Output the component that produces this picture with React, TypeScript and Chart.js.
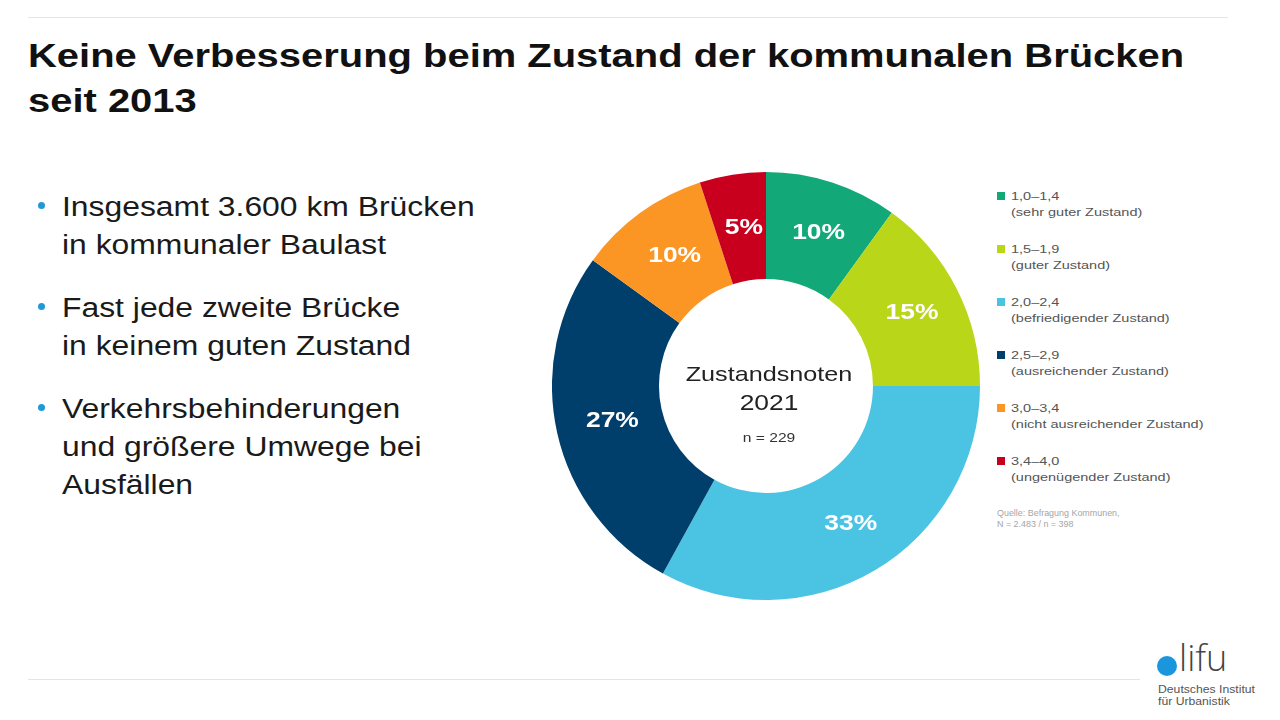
import React, { useEffect, useRef } from "react";
import { Chart, registerables } from "chart.js";

Chart.register(...registerables);

const rangeLabels = ["1,0–1,4", "1,5–1,9", "2,0–2,4", "2,5–2,9", "3,0–3,4", "3,4–4,0"];
const stateLabels = [
  "(sehr guter Zustand)",
  "(guter Zustand)",
  "(befriedigender Zustand)",
  "(ausreichender Zustand)",
  "(nicht ausreichender Zustand)",
  "(ungenügender Zustand)",
];
const shares = [10, 15, 33, 27, 10, 5];
const colors = ["#12a878", "#b9d619", "#4bc3e3", "#003f6b", "#fb9624", "#c8001e"];
const centerLines = ["Zustandsnoten", "2021", "n = 229"];

const titleLines = ["Keine Verbesserung beim Zustand der kommunalen Brücken", "seit 2013"];
const bullets = [
  ["Insgesamt 3.600 km Brücken", "in kommunaler Baulast"],
  ["Fast jede zweite Brücke", "in keinem guten Zustand"],
  ["Verkehrsbehinderungen", "und größere Umwege bei", "Ausfällen"],
];
const sourceLines = ["Quelle: Befragung Kommunen,", "N = 2.483 / n = 398"];

const FONT = '"Liberation Sans", Arial, sans-serif';
const STRETCH = 1.2;

function fillStretched(ctx: CanvasRenderingContext2D, text: string, x: number, y: number) {
  ctx.save();
  ctx.translate(x, y);
  ctx.scale(STRETCH, 1);
  ctx.fillText(text, 0, 0);
  ctx.restore();
}

const labelPlugin = {
  id: "labelsAndCenter",
  afterDatasetsDraw(chart: any) {
    const ctx = chart.ctx;
    const meta = chart.getDatasetMeta(0);
    ctx.save();
    ctx.fillStyle = "#ffffff";
    ctx.font = `bold 22px ${FONT}`;
    ctx.textAlign = "center";
    ctx.textBaseline = "middle";
    meta.data.forEach((arc: any, i: number) => {
      const p = arc.tooltipPosition();
      fillStretched(ctx, shares[i] + "%", p.x + 3, p.y);
    });
    const a = meta.data[0];
    const cx = a.x + 3;
    const cy = a.y;
    ctx.fillStyle = "#222222";
    ctx.font = `21px ${FONT}`;
    fillStretched(ctx, centerLines[0], cx, cy - 11);
    ctx.font = `22px ${FONT}`;
    fillStretched(ctx, centerLines[1], cx, cy + 18);
    ctx.fillStyle = "#333333";
    ctx.font = `13px ${FONT}`;
    fillStretched(ctx, centerLines[2], cx, cy + 52);
    ctx.restore();
  },
};

function Donut() {
  const ref = useRef<HTMLCanvasElement>(null);
  useEffect(() => {
    if (!ref.current) return;
    const chart = new Chart(ref.current, {
      type: "doughnut",
      data: {
        labels: rangeLabels,
        datasets: [
          {
            data: shares,
            backgroundColor: colors,
            borderWidth: 0,
          },
        ],
      },
      options: {
        animation: false,
        responsive: false,
        maintainAspectRatio: false,
        cutout: "50%",
        rotation: 0,
        layout: { padding: 0 },
        plugins: {
          legend: { display: false },
          tooltip: { enabled: false },
        },
      },
      plugins: [labelPlugin],
    });
    return () => chart.destroy();
  }, []);
  return (
    <canvas
      ref={ref}
      width={428}
      height={428}
      style={{ position: "absolute", left: 552, top: 172, width: 428, height: 428 }}
    />
  );
}

const stretchStyle = (s: number): React.CSSProperties => ({
  display: "inline-block",
  transform: `scaleX(${s})`,
  transformOrigin: "0 0",
  whiteSpace: "nowrap",
});

export default function App() {
  return (
    <div
      style={{
        position: "fixed",
        left: 0,
        top: 0,
        width: 1280,
        height: 720,
        background: "#ffffff",
        fontFamily: FONT,
        overflow: "hidden",
      }}
    >
      <div style={{ position: "absolute", left: 28, top: 17, width: 1200, height: 1, background: "#dde7f1" }} />
      <div style={{ position: "absolute", left: 28, top: 679, width: 1112, height: 1, background: "#dde7f1" }} />
      <div
        style={{
          position: "absolute",
          left: 28,
          top: 33,
          fontSize: 33,
          fontWeight: "bold",
          lineHeight: "45px",
          color: "#111111",
        }}
      >
        {titleLines.map((t, i) => (
          <div key={i}>
            <span style={stretchStyle(1.21)}>{t}</span>
          </div>
        ))}
      </div>
      {bullets.map((lines, bi) => (
        <div key={bi} style={{ position: "absolute", left: 62, top: [188, 289, 390][bi] }}>
          <div
            style={{
              position: "absolute",
              left: -24,
              top: 14,
              width: 7,
              height: 7,
              borderRadius: "50%",
              background: "#1e9ad6",
            }}
          />
          {lines.map((l, li) => (
            <div key={li} style={{ fontSize: 27, lineHeight: "38px", color: "#1a1a1a", height: 38 }}>
              <span style={stretchStyle(1.18)}>{l}</span>
            </div>
          ))}
        </div>
      ))}
      <Donut />
      <div style={{ position: "absolute", left: 997, top: 188 }}>
        {rangeLabels.map((r, i) => (
          <div key={i} style={{ position: "absolute", left: 0, top: i * 53, whiteSpace: "nowrap" }}>
            <div style={{ position: "absolute", left: 0, top: 4, width: 8, height: 8, background: colors[i] }} />
            <div style={{ position: "absolute", left: 14, top: 0, fontSize: 11.5, lineHeight: "16px", color: "#555555" }}>
              <div style={{ height: 16 }}>
                <span style={stretchStyle(1.26)}>{r}</span>
              </div>
              <div style={{ height: 16 }}>
                <span style={stretchStyle(1.26)}>{stateLabels[i]}</span>
              </div>
            </div>
          </div>
        ))}
        <div
          style={{
            position: "absolute",
            left: 0,
            top: 320,
            fontSize: 8.5,
            lineHeight: "11px",
            color: "#a5a5a5",
          }}
        >
          {sourceLines.map((s, i) => (
            <div key={i} style={{ height: 11 }}>
              <span style={stretchStyle(1.05)}>{s}</span>
            </div>
          ))}
        </div>
      </div>
      <div style={{ position: "absolute", left: 1157, top: 656 }}>
        <div
          style={{ position: "absolute", left: 0, top: 0, width: 20, height: 20, borderRadius: "50%", background: "#1a96dc" }}
        />
        <div
          style={{
            position: "absolute",
            left: 22,
            top: -20,
            fontSize: 36,
            lineHeight: "44px",
            color: "#444444",
            fontWeight: 300,
            fontFamily: '"Open Sans", sans-serif',
          }}
        >
          lifu
        </div>
        <div
          style={{
            position: "absolute",
            left: 1,
            top: 28,
            fontSize: 10,
            lineHeight: "12px",
            color: "#555555",
          }}
        >
          <div style={{ height: 12 }}>
            <span style={stretchStyle(1.22)}>Deutsches Institut</span>
          </div>
          <div style={{ height: 12 }}>
            <span style={stretchStyle(1.22)}>für Urbanistik</span>
          </div>
        </div>
      </div>
    </div>
  );
}
